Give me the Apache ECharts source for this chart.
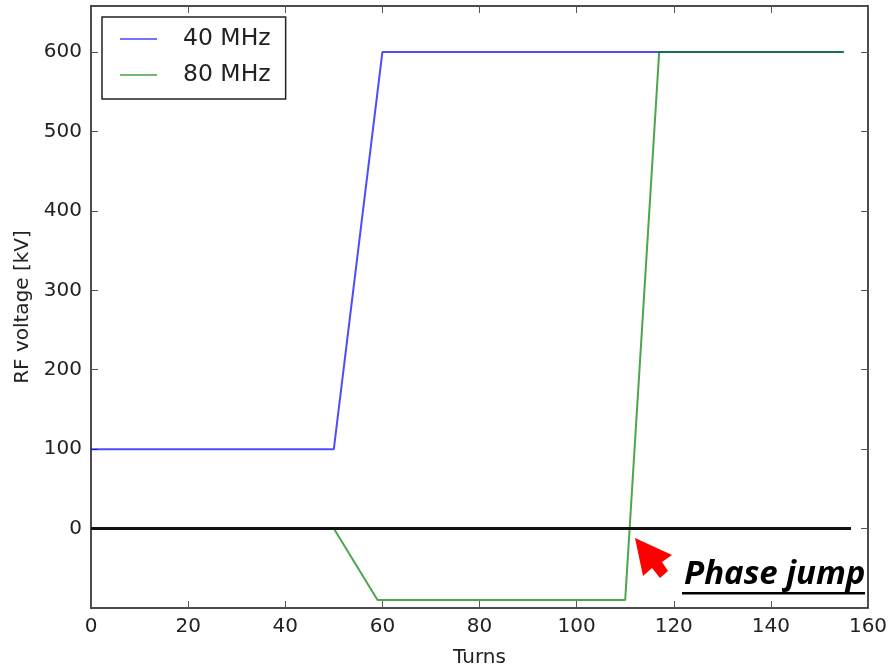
<!DOCTYPE html>
<html>
<head>
<meta charset="utf-8">
<script src="https://cdn.jsdelivr.net/npm/echarts@6/dist/echarts.min.js"></script>
<style>
html,body{margin:0;padding:0;background:#fff;}
#c{width:889px;height:667px;}
</style>
</head>
<body>
<div id="c"></div>
<script>
// ---- data ----
const seriesNames = ['40 MHz', '80 MHz'];
const turns40 = [0, 50, 60, 155];
const volt40  = [100, 100, 600, 600];
const turns80 = [0, 50, 59, 110, 117, 155];
const volt80  = [0, 0, -90, -90, 600, 600];
const zeroTurns = [0, 156.5];
const zeroVolt  = [0, 0];
const xTicks = [0, 20, 40, 60, 80, 100, 120, 140, 160];
const yTicks = [0, 100, 200, 300, 400, 500, 600];
const annotationText = 'Phase jump';

const pairs = (xs, ys) => xs.map((x, i) => [x, ys[i]]);

const FONT = 'DejaVu Sans';
const axisCommon = {
  type: 'value',
  axisLine: {show: true, onZero: false, lineStyle: {color: '#111', width: 1.5}},
  axisTick: {show: true, inside: true, length: 7, lineStyle: {color: '#555', width: 1}},
  splitLine: {show: false},
};

const chart = echarts.init(document.getElementById('c'), null, {renderer: 'canvas'});
chart.setOption({
  animation: false,
  backgroundColor: '#fff',
  grid: {left: 91, right: 21, top: 6, bottom: 59, containLabel: false, outerBoundsMode: 'none'},
  legend: {
    orient: 'vertical',
    left: 102, top: 17,
    padding: [10, 15, 12, 18],
    borderColor: '#222', borderWidth: 1.5,
    itemWidth: 37, itemHeight: 2, itemGap: 12,
    icon: 'rect',
    data: seriesNames,
    textStyle: {fontFamily: FONT, fontSize: 23.5, color: '#222', lineHeight: 24, padding: [0, 0, 0, 21]}
  },
  xAxis: [
    Object.assign({}, axisCommon, {
      position: 'bottom', min: xTicks[0], max: xTicks[xTicks.length - 1], interval: 20,
      name: 'Turns', nameLocation: 'middle', nameGap: 40,
      nameTextStyle: {fontFamily: FONT, fontSize: 20, color: '#222'},
      axisLabel: {fontFamily: FONT, fontSize: 20, color: '#222', margin: 9}
    }),
    Object.assign({}, axisCommon, {
      position: 'top', min: xTicks[0], max: xTicks[xTicks.length - 1], interval: 20,
      axisLabel: {show: false}
    })
  ],
  yAxis: [
    Object.assign({}, axisCommon, {
      position: 'left', min: -100, max: 658, interval: 100,
      name: 'RF voltage [kV]', nameLocation: 'middle', nameGap: 57,
      nameTextStyle: {fontFamily: FONT, fontSize: 20, color: '#222'},
      axisLabel: {fontFamily: FONT, fontSize: 20, color: '#222', margin: 9,
        showMinLabel: false, showMaxLabel: false,
        formatter: v => (yTicks.indexOf(v) >= 0 ? String(v) : '')}
    }),
    Object.assign({}, axisCommon, {
      position: 'right', min: -100, max: 658, interval: 100,
      axisLabel: {show: false}
    })
  ],
  series: [
    {
      name: seriesNames[0], type: 'line', data: pairs(turns40, volt40),
      showSymbol: false, symbol: 'none', z: 2,
      lineStyle: {color: 'rgba(0,0,255,0.7)', width: 2},
      itemStyle: {color: 'rgba(0,0,255,0.55)'}
    },
    {
      name: seriesNames[1], type: 'line', data: pairs(turns80, volt80),
      showSymbol: false, symbol: 'none', z: 3,
      lineStyle: {color: 'rgba(0,128,0,0.7)', width: 2},
      itemStyle: {color: 'rgba(0,128,0,0.55)'}
    },
    {
      name: 'zero', type: 'line', data: pairs(zeroTurns, zeroVolt),
      showSymbol: false, symbol: 'none', z: 4, silent: true,
      lineStyle: {color: '#111', width: 3}
    }
  ],
  graphic: [
    {
      type: 'polygon', z: 100,
      shape: {points: [[635, 538], [672, 555], [662, 562], [668, 571], [660, 578], [652, 568], [643, 576]]},
      style: {fill: '#ff0000'}
    },
    {
      type: 'text', z: 100, left: 684, top: 558,
      style: {text: annotationText, fontFamily: 'Open Sans', fontWeight: 'bold', fontStyle: 'italic',
        fontSize: 33, fill: '#000'}
    },
    {
      type: 'rect', z: 100,
      shape: {x: 682, y: 592, width: 183, height: 2.5},
      style: {fill: '#000'}
    }
  ]
});
</script>
</body>
</html>
